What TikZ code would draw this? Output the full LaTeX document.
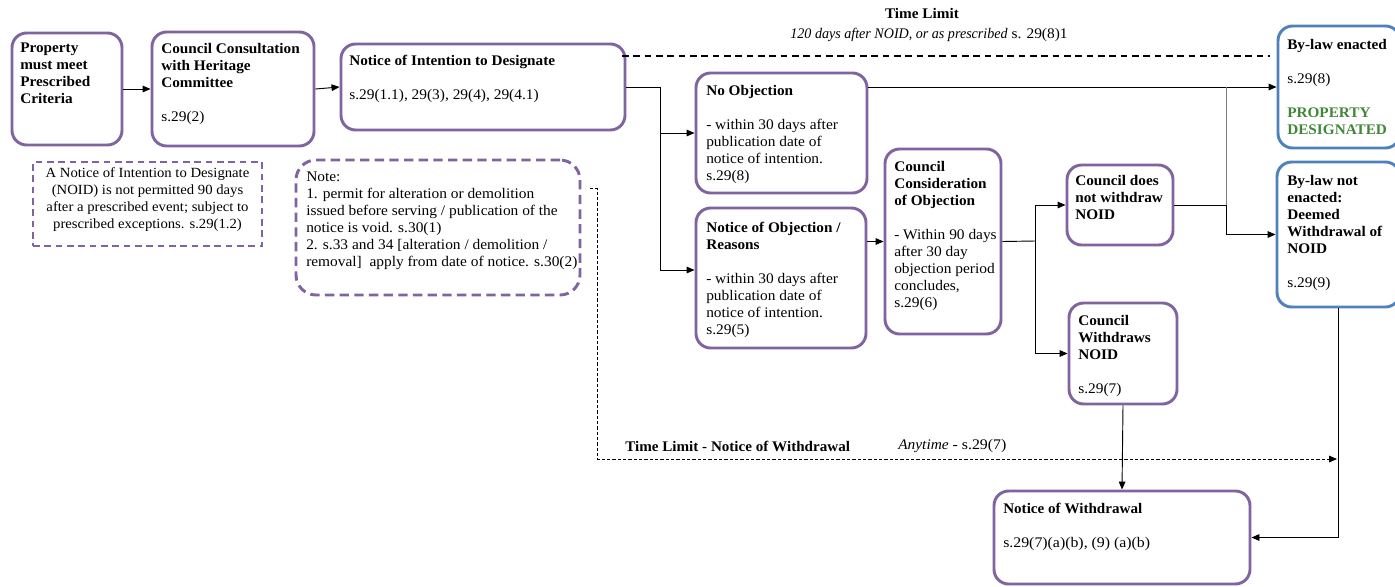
\documentclass[tikz,border=0pt]{standalone}
\usepackage{fontspec}
\setmainfont{Liberation Serif}[
  UprightFeatures={FakeStretch=1.05},
  BoldFeatures={FakeStretch=1.04},
  ItalicFeatures={FakeStretch=0.96}]
\newfontfamily\lowfont{Liberation Serif}[
  UprightFeatures={FakeStretch=1.08},
  BoldFeatures={FakeStretch=1.03},
  ItalicFeatures={FakeStretch=1.05}]
\usetikzlibrary{arrows.meta,fit,calc}
\definecolor{purp}{RGB}{128,100,162}
\definecolor{blu}{RGB}{79,129,189}
\definecolor{grn}{RGB}{64,135,56}
\tikzset{
  box/.style={draw=purp, line width=2.2pt, rounded corners=11pt, inner sep=0pt},
  bbox/.style={draw=blu, line width=2.2pt, rounded corners=11pt, inner sep=0pt},
  dnote/.style={draw=purp, line width=1.6pt, dash pattern=on 5pt off 3.5pt, inner sep=0pt},
  rnote/.style={draw=purp, line width=2.2pt, dash pattern=on 7pt off 4pt, rounded corners=15pt, inner sep=0pt},
  txt/.style={inner sep=0pt, anchor=north west, align=left, font=\fontsize{11}{12.75}\selectfont},
  ctxt/.style={inner sep=0pt, align=center, font=\fontsize{11}{12.75}\selectfont},
  conn/.style={line width=0.7pt, draw=black},
  arr/.style={conn, -{Triangle[length=6pt,width=5pt]}},
  tdash/.style={line width=1.1pt, dash pattern=on 5pt off 3.5pt},
  tdot/.style={line width=0.7pt, dash pattern=on 2.5pt off 1.5pt, -{Triangle[length=6pt,width=5pt]}},
}
\begin{document}
\begin{tikzpicture}[x=0.75pt, y=-0.75pt]
\useasboundingbox (0,0) rectangle (1395,586);
\fill[white] (0,0) rectangle (1395,586);

% ---- boxes ----
\node[box, fit={(12,33) (122,145)}] (prop) {};
\node[box, fit={(152,32) (314,146)}] (cc) {};
\node[box, fit={(341,44) (625,130)}] (noi) {};
\node[box, fit={(696,73) (867,193)}] (noobj) {};
\node[box, fit={(696,208) (866,348)}] (objn) {};
\node[box, fit={(885,149) (1001,334)}] (cons) {};
\node[box, fit={(1067,165) (1173,245)}] (dnw) {};
\node[box, fit={(1069,303) (1177,404)}] (cw) {};
\node[bbox, fit={(1278,26) (1400,148)}] (by1) {};
\node[bbox, fit={(1277,162) (1400,307)}] (by2) {};
\node[box, fit={(994,491) (1250,584)}] (now) {};
\node[dnote, fit={(33,162) (262,246)}] (noid) {};
\node[rnote, fit={(296,160) (580,295)}] (note) {};

% ---- box texts ----
\node[txt] (propT) at (20,42.5) {\textbf{Property}\\\textbf{must meet}\\\textbf{Prescribed}\\\textbf{Criteria}};
\node[txt] (ccT) at (161,43) {\textbf{Council Consultation}\\\textbf{with Heritage}\\\textbf{Committee}\\[12.75pt]s.29(2)};
\node[txt] (noiT) at (349,55) {\textbf{Notice of Intention to Designate}\\[12.75pt]s.29(1.1), 29(3), 29(4), 29(4.1)};
\node[txt] (noobjT) at (706,85) {\textbf{No Objection}\\[12.75pt]- within 30 days after\\publication date of\\notice of intention.\\s.29(8)};
\node[txt] (objnT) at (706,222) {\textbf{Notice of Objection /}\\\textbf{Reasons}\\[12.75pt]- within 30 days after\\publication date of\\notice of intention.\\s.29(5)};
\node[txt] (consT) at (894,161) {\textbf{Council}\\\textbf{Consideration}\\\textbf{of Objection}\\[12.75pt]- Within 90 days\\after 30 day\\objection period\\concludes,\\s.29(6)};
\node[txt] (dnwT) at (1075,175) {\textbf{Council does}\\\textbf{not withdraw}\\\textbf{NOID}};
\node[txt] (cwT) at (1078,315) {\textbf{Council}\\\textbf{Withdraws}\\\textbf{NOID}\\[12.75pt]s.29(7)};
\node[txt] (by1T) at (1287,39) {\textbf{By-law enacted}\\[12.75pt]s.29(8)\\[12.75pt]\textcolor{grn}{\textbf{PROPERTY}}\\\textcolor{grn}{\textbf{DESIGNATED}}};
\node[txt] (by2T) at (1287,175) {\textbf{By-law not}\\\textbf{enacted:}\\\textbf{Deemed}\\\textbf{Withdrawal of}\\\textbf{NOID}\\[12.75pt]s.29(9)};
\node[txt] (nowT) at (1003,503) {\lowfont\textbf{Notice of Withdrawal}\\[12.75pt]\lowfont s.29(7)(a)(b), (9) (a)(b)};
\node[ctxt, anchor=north, font=\fontsize{10.5}{12.75}\selectfont] (noidT) at (147.5,167) {A Notice of Intention to Designate\\(NOID) is not permitted 90 days\\after a prescribed event; subject to\\prescribed exceptions. s.29(1.2)};
\node[txt] (noteT) at (306,172) {Note:\\1. permit for alteration or demolition\\issued before serving / publication of the\\notice is void. s.30(1)\\2. s.33 and 34 [alteration / demolition /\\removal]~ apply from date of notice. s.30(2)};

% ---- time limit labels ----
\node[ctxt] (tl1) at (922,13) {\textbf{Time Limit}};
\node[ctxt] (tl2) at (929,35) {\textit{120 days after NOID, or as prescribed} s. 29(8)1};
\node[inner sep=0pt, anchor=west, font=\fontsize{11}{12.75}\selectfont] (tl3) at (625,446) {\lowfont\textbf{Time Limit - Notice of Withdrawal}};
\node[inner sep=0pt, anchor=west, font=\fontsize{11}{12.75}\selectfont] (tl4) at (898,446) {\lowfont\textit{Anytime} - s.29(7)};

% ---- junction points ----
\coordinate (j1) at (660,87);
\coordinate (j2) at (660,270);
\coordinate (j3) at (1035,241);
\coordinate (j4) at (1226,205);
\coordinate (t0) at (622,56);
\coordinate (t1) at (1270,56);
\coordinate (d0) at (590,188);
\coordinate (d1) at (597,459);
\coordinate (d2) at (1337,459);

% ---- connectors ----
\draw[arr] (prop.east) -- (cc.west);
\draw[arr] (cc.east) -- (noi.west);
\draw[conn] (noi.east) -- (j1) -- (j2);
\draw[arr] (j1 |- noobj.west) -- (noobj.west);
\draw[arr] (j2) -- (j2 -| objn.west);
\draw[arr] (by1.west -| noobj.east) -- (by1.west);
\draw[arr] (objn.east |- cons.west) -- (cons.west);
\draw[conn] (cons.east) -- (j3);
\draw[arr] (j3) |- (dnw.west);
\draw[arr] (j3) |- (cw.west);
\draw[conn, draw=gray] (j4) -- (j4 |- by1.west);
\draw[arr] (dnw.east) -- (j4) |- (by2.west);
\draw[arr] (cw.south) -- (now.north);
\draw[arr] (by2.south) |- (now.east);
\draw[tdash] (t0) -- (t1);
\draw[tdot] (d0) -| (d1) -- (d2);
\end{tikzpicture}
\end{document}
